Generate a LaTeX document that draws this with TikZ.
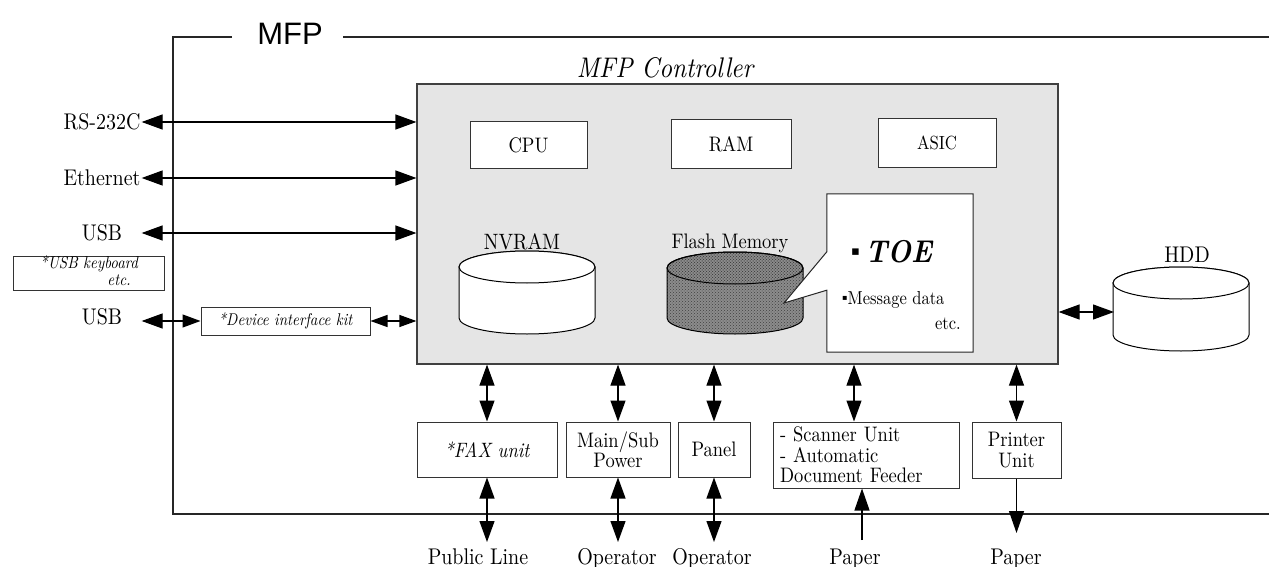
\documentclass[tikz,border=0pt]{standalone}
\usepackage{fontspec}
\setmainfont[Extension=.otf,UprightFont=*-regular,BoldFont=*-bold,ItalicFont=*-italic,BoldItalicFont=*-bolditalic,FakeStretch=0.88]{lmroman10}
\newfontfamily\arialf{Liberation Sans}
\newfontfamily\dejav{DejaVu Sans}
\usetikzlibrary{arrows.meta,patterns,calc}
\newcommand\mycyl[4]{%
  \path[#4] ({#1-68},#2) -- ({#1-68},#3)
     arc[start angle=180,end angle=360,x radius=68pt,y radius=16pt]
     -- ({#1+68},#2)
     arc[start angle=0,end angle=180,x radius=68pt,y radius=16pt] -- cycle;
  \path[#4] (#1,#2) ellipse[x radius=68pt,y radius=16pt];}
\begin{document}
\begin{tikzpicture}[x=1pt,y=-1pt,
  box/.style={draw=black!80, line width=1pt, fill=white, inner sep=0pt, align=center},
  lbl/.style={inner sep=1pt},
  dar/.style={{Triangle[length=21pt,width=15pt]}-{Triangle[length=21pt,width=15pt]}, line width=1.2pt},
  sar/.style={-{Triangle[length=22pt,width=15pt]}, line width=1.2pt},
  smar/.style={{Triangle[length=17pt,width=12pt]}-{Triangle[length=17pt,width=12pt]}, line width=1.2pt},
  f20/.style={font=\fontsize{22.7}{24}\selectfont},
  f18/.style={font=\fontsize{21}{20.5}\selectfont},
  frame/.style={line width=1.2pt, draw=black!85}
]
\useasboundingbox (0,0) rectangle (1269,567);

% outer MFP frame
\node[font=\arialf\fontsize{31}{31}\selectfont, anchor=base, inner sep=0pt] (mfp) at (290,45) {MFP};
\draw[frame] (232,37) -- (173,37) -- (173,514) -- (1269,514);
\draw[frame] (343,37) -- (1269,37);

% controller
\node[draw=black!75, line width=1.2pt, fill=black!10, minimum width=641pt, minimum height=280pt, inner sep=0pt] (ctrl) at (737.5,224) {};
\node[font=\itshape\fontsize{28.4}{30}\selectfont, inner sep=0pt] (ctrltitle) at (665,68) {MFP Controller};

\node[box, f18, minimum width=117pt, minimum height=46pt] (cpu) at (528.5,145) {CPU};
\node[box, f18, minimum width=120pt, minimum height=48pt] (ram) at (731,144) {RAM};
\node[box, font=\fontsize{19}{20}\selectfont, minimum width=118pt, minimum height=48pt] (asic) at (937,143) {ASIC};

% NVRAM
\node[lbl, font=\fontsize{22.2}{24}\selectfont] (nvlbl) at (522,242) {NVRAM};
\mycyl{527}{267}{318}{draw=black, line width=1pt, fill=white}

% Flash memory
\node[lbl, f18] (fllbl) at (730,243) {Flash Memory};
\mycyl{735}{268}{318}{fill=black!45}
\mycyl{735}{268}{318}{pattern=crosshatch dots, pattern color=black!75}
\mycyl{735}{268}{318}{draw=black, line width=1pt}

% HDD
\node[lbl, f20] (hddlbl) at (1187,255) {HDD};
\mycyl{1181}{283}{335}{draw=black, line width=1pt, fill=white}
\coordinate (hddL) at (1114,312);
\draw[dar] (ctrl.east |- hddL) -- (hddL);

% TOE callout
\node[minimum width=146pt, minimum height=158pt, inner sep=0pt] (toe) at (900,273) {};
\coordinate (tip) at (784,303);
\draw[line width=1pt, draw=black!85, fill=white] (toe.north west) -- (toe.north east) -- (toe.south east) -- (toe.south west)
  -- ([yshift=62pt]toe.south west) -- (tip) -- ([yshift=-58pt]toe.north west) -- cycle;
\node[anchor=base west, inner sep=0pt, font=\fontsize{31.5}{32}\selectfont] (toet) at (851,262)
  {\raisebox{6.5pt}{\dejav\fontsize{13}{13}\selectfont ▪}\,\textbf{\textit{TOE}}};
\node[anchor=base west, inner sep=0pt, font=\fontsize{18.75}{19}\selectfont] (msg) at (842,304)
  {\raisebox{3.5pt}{\dejav\fontsize{8}{8}\selectfont ▪}Message data};
\node[anchor=base east, inner sep=0pt, font=\fontsize{18.75}{19}\selectfont] (etc1) at (961,329) {etc.};

% left interfaces
\node[lbl, f20] (rs) at (102,122) {RS-232C};
\node[lbl, f20] (eth) at (102,178) {Ethernet};
\node[lbl, f20] (usb) at (102,233) {USB};
\node[lbl, f20] (usb2) at (102,317) {USB};
\draw[dar] (rs.east) -- (rs.east -| ctrl.west);
\draw[dar] (eth.east) -- (eth.east -| ctrl.west);
\draw[dar] (rs.east |- usb.east) -- (ctrl.west |- usb.east);

\node[box, minimum width=151pt, minimum height=34pt] (kbd) at (88.5,273) {};
\node[anchor=base west, inner sep=0pt, font=\itshape\fontsize{17}{18}\selectfont] (kbdt) at (40,268) {*USB keyboard};
\node[anchor=base east, inner sep=0pt, font=\itshape\fontsize{17}{18}\selectfont] (kbde) at (131,285) {etc.};

\node[box, font=\itshape\fontsize{17}{18}\selectfont, minimum width=169pt, minimum height=28pt] (kit) at (285.5,321) {*Device interface kit};
\draw[{Triangle[length=21pt,width=15pt]}-{Triangle[length=18pt,width=13pt]}, line width=1.2pt] (rs.east |- kit.west) -- (kit.west);
\draw[smar] (kit.east) -- (ctrl.west |- kit.east);

% bottom units
\node[box, font=\itshape\fontsize{20.8}{22}\selectfont, minimum width=140pt, minimum height=55pt] (fax) at (487,449.5) {*FAX unit};
\node[box, f18, minimum width=104pt, minimum height=55pt] (pwr) at (618,449.5) {Main/Sub\\Power};
\node[box, f18, minimum width=72pt, minimum height=55pt] (pnl) at (714,449.5) {Panel};
\node[box, f18, minimum width=186pt, minimum height=66pt, text width=172pt, align=left] (scn) at (866,455)
  {- Scanner Unit\\- Automatic\\Document Feeder};
\node[box, f18, minimum width=89pt, minimum height=56pt] (prn) at (1016.5,450) {Printer\\Unit};

\draw[dar] (fax.north) -- (fax.north |- ctrl.south);
\draw[dar] (pwr.north) -- (pwr.north |- ctrl.south);
\draw[dar] (pnl.north) -- (pnl.north |- ctrl.south);
\draw[dar] ([xshift=-12pt]scn.north) -- ([xshift=-12pt]scn.north |- ctrl.south);
\draw[dar] (prn.north) -- (prn.north |- ctrl.south);

% external labels
\node[anchor=base, inner sep=0pt, f20] (pl) at (478,564) {Public Line};
\node[anchor=base, inner sep=0pt, f20] (op1) at (617,564) {Operator};
\node[anchor=base, inner sep=0pt, f20] (op2) at (712,564) {Operator};
\node[anchor=base, inner sep=0pt, f20] (pap1) at (855,564) {Paper};
\node[anchor=base, inner sep=0pt, f20] (pap2) at (1016,564) {Paper};
\coordinate (bot) at (0,542);
\coordinate (bot2) at (0,540);
\coordinate (pbot) at (0,533);
\draw[dar] (fax.south) -- (fax.south |- bot);
\draw[dar] (pwr.south) -- (pwr.south |- bot);
\draw[dar] (pnl.south) -- (pnl.south |- bot);
\draw[sar] ([xshift=-4pt]scn.south |- bot2) -- ([xshift=-4pt]scn.south);
\draw[sar] (prn.south) -- (prn.south |- pbot);
\end{tikzpicture}
\end{document}
